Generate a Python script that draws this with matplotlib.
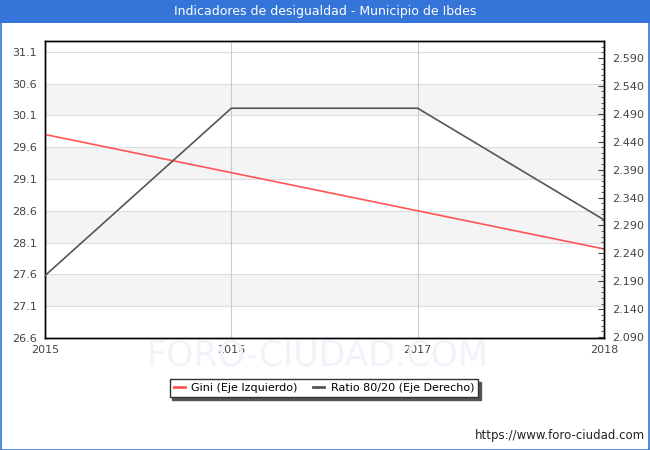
import numpy as np
import matplotlib
matplotlib.use("Agg")
import matplotlib.pyplot as plt
from matplotlib.patches import Rectangle

# Datos
anios = [2015, 2016, 2017, 2018]
gini = [29.8, 29.2, 28.6, 28.0]
ratio_80_20 = [2.20, 2.50, 2.50, 2.30]

ticks_izq = [26.6, 27.1, 27.6, 28.1, 28.6, 29.1, 29.6, 30.1, 30.6, 31.1]
ticks_der = [2.09, 2.14, 2.19, 2.24, 2.29, 2.34, 2.39, 2.44, 2.49, 2.54, 2.59]

W, H = 650, 450
fig = plt.figure(figsize=(W / 100, H / 100), dpi=100)

# Barra de titulo y marco
azul = '#3574d8'
fig.patches.append(Rectangle((0, 1 - 23 / H), 1, 23 / H, transform=fig.transFigure,
                             facecolor=azul, edgecolor='none', zorder=0))
fig.patches.append(Rectangle((0.5 / W, 0.5 / H), 1 - 1.5 / W, 1 - 1.5 / H, transform=fig.transFigure,
                             facecolor='none', edgecolor=azul, linewidth=1.2, zorder=5))
fig.text(0.5, 1 - 11.5 / H, 'Indicadores de desigualdad - Municipio de Ibdes',
         ha='center', va='center', color='white', fontsize=9)

# Marca de agua
fig.text(318 / W, 1 - 356 / H, 'FORO-CIUDAD.COM', ha='center', va='center',
         fontsize=25, color='#f2f2fa', zorder=0)

ax = fig.add_axes([45 / W, 1 - 338 / H, 559 / W, 297 / H])
ax.set_xlim(2015, 2018)
ax.set_ylim(26.6, 31.27)

# bandas alternas
for i in range(len(ticks_izq) - 1):
    if i % 2 == 1:
        ax.axhspan(ticks_izq[i], ticks_izq[i + 1], color='#f4f4f4', zorder=0, linewidth=0)
for t in ticks_izq[1:]:
    ax.axhline(t, color='#dddddd', linewidth=0.8, zorder=1)
for x in anios[1:-1]:
    ax.axvline(x, color='#cccccc', linewidth=0.8, zorder=1)

ax.plot(anios, gini, color='#ff5555', linewidth=1.2, zorder=3, label='Gini (Eje Izquierdo)')
ax.set_yticks(ticks_izq)
ax.set_yticklabels([f'{t:.1f}' for t in ticks_izq])
ax.set_xticks(anios)
ax.set_xticklabels([str(a) for a in anios])
ax.tick_params(axis='both', length=0, labelsize=8, colors='#444444', pad=6)
ax.tick_params(axis='x', pad=5)

ax2 = ax.twinx()
ax2.set_ylim(2.0882, 2.6205)
ax2.plot(anios, ratio_80_20, color='#555555', linewidth=1.2, zorder=3, label='Ratio 80/20 (Eje Derecho)')
ax2.set_yticks(ticks_der)
ax2.set_yticklabels([f'{t:.3f}' for t in ticks_der])
ax2.set_yticks(np.arange(2.09, 2.615, 0.01), minor=True)
ax2.tick_params(axis='y', which='major', length=4, direction='in', labelsize=8,
                colors='#444444', labelcolor='#444444', pad=6)
ax2.tick_params(axis='y', which='minor', length=2, direction='in', color='#444444')

for a in (ax, ax2):
    for s in a.spines.values():
        s.set_color('black')
        s.set_linewidth(1)

h1, l1 = ax.get_legend_handles_labels()
h2, l2 = ax2.get_legend_handles_labels()
leg = fig.legend(h1 + h2, l1 + l2, loc='center', bbox_to_anchor=(324 / W, 1 - 388 / H),
                 ncol=2, fontsize=8, frameon=True, fancybox=False,
                 shadow={'color': '#555555', 'alpha': 1},
                 edgecolor='#333333', handlelength=1.0, columnspacing=1.4,
                 handletextpad=0.6, borderpad=0.35)
for line in leg.get_lines():
    line.set_linewidth(2)

fig.text(1 - 5 / W, 1 - 435 / H, 'https://www.foro-ciudad.com', ha='right', va='center',
         fontsize=8.5, color='#222222')

fig.savefig('out.png', dpi=100)
